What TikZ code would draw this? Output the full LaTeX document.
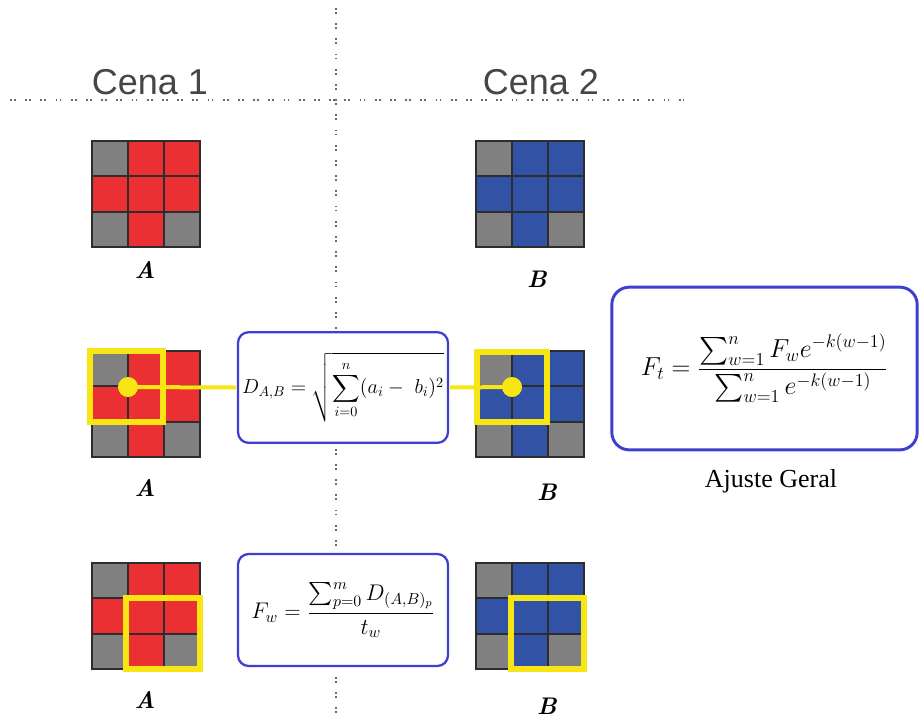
\RequirePackage{fix-cm}
\documentclass[tikz,border=0pt]{standalone}
\usepackage{fontspec}
\usepackage{amsmath}
\newfontfamily\cenafont{Liberation Sans}
\newfontfamily\capfont{Liberation Serif}
\definecolor{cellred}{RGB}{234,48,50}
\definecolor{cellblue}{RGB}{50,82,166}
\definecolor{cellgray}{RGB}{128,128,128}
\definecolor{gridline}{RGB}{45,45,45}
\definecolor{markyellow}{RGB}{247,230,20}
\definecolor{frameblue}{RGB}{62,62,208}
\definecolor{guide}{RGB}{105,105,105}
\definecolor{titlegray}{RGB}{70,70,70}

\tikzset{
  guideline/.style={guide, line width=1.3pt, dash pattern=on 1.4pt off 1.6pt on 1.4pt off 7pt},
  gridln/.style={gridline, line width=1.5pt},
  gridframe/.style={draw=gridline, line width=1.5pt, minimum width=81pt, minimum height=79.5pt, inner sep=0pt, outer sep=0pt, anchor=north west},
  markbox/.style={markyellow, line width=4.5pt},
  markline/.style={markyellow, line width=3pt},
  markdot/.style={circle, fill=markyellow, minimum size=15pt, inner sep=0pt},
  formbox/.style={draw=frameblue, fill=white, line width=1.7pt, rounded corners=8pt, inner sep=0pt},
  cena/.style={font=\cenafont\fontsize{27}{30}\selectfont, text=titlegray, anchor=base},
  glabel/.style={font=\fontsize{18}{20}\selectfont\bfseries\itshape},
}

% 3x3 cell grid: #1,#2 top-left corner (px), #3 node name, #4 fill colour
\newcommand\pixgrid[4]{%
  \foreach \c in {0,1,2}{\foreach \r in {0,1,2}{
    \fill[#4] ({#1+36*\c},{#2+35.33*\r}) rectangle ++(36,35.33);}}
  \fill[cellgray] (#1,#2) rectangle ++(36,35.33);
  \fill[cellgray] (#1,{#2+70.67}) rectangle ++(36,35.33);
  \fill[cellgray] ({#1+72},{#2+70.67}) rectangle ++(36,35.33);
  \draw[gridln] ({#1+36},#2) -- ++(0,106);
  \draw[gridln] ({#1+72},#2) -- ++(0,106);
  \draw[gridln] (#1,{#2+35.33}) -- ++(108,0);
  \draw[gridln] (#1,{#2+70.67}) -- ++(108,0);
  \node[gridframe] (#3) at (#1,#2) {};
}

\begin{document}
\begin{tikzpicture}[x=0.75pt, y=-0.75pt]
  \fill[white] (0,0) rectangle (920,719);
  \useasboundingbox (0,0) rectangle (920,719);

  % scene separators
  \draw[guideline] (10,100) -- (683,100);
  \draw[guideline] (336,8) -- (336,719);

  \node[cena] (cena1) at (150,94) {Cena 1};
  \node[cena] (cena2) at (541,94) {Cena 2};

  % top row
  \pixgrid{92}{141}{ga1}{cellred}
  \pixgrid{476}{141}{gb1}{cellblue}
  \node[glabel] (la1) at (145,270) {A};
  \node[glabel] (lb1) at (537,279) {B};

  % middle row
  \pixgrid{92}{351}{ga2}{cellred}
  \pixgrid{476}{351}{gb2}{cellblue}
  \draw[markbox] (90,351) rectangle (163,422);
  \draw[markbox] (477,352) rectangle (547,422);
  \node[glabel] (la2) at (145,488) {A};
  \node[glabel] (lb2) at (547,492) {B};

  \node[formbox, minimum width=157.5pt, minimum height=83pt] (dist) at (343,387.5)
    {\fontsize{15.2}{17}\selectfont$\displaystyle D_{A,B} = \sqrt{\sum_{i=0}^{n}(a_i -\ b_i)^2}$};

  \node[markdot] (da) at (128,387) {};
  \node[markdot] (db) at (512,387) {};
  \draw[markline, shorten >=0.8pt] (da.center) -- (dist.west);
  \draw[markline, shorten <=0.8pt] (dist.east) -- (db.center);

  % bottom row
  \pixgrid{92}{563}{ga3}{cellred}
  \pixgrid{476}{563}{gb3}{cellblue}
  \draw[markbox] (126,598) rectangle (200,669);
  \draw[markbox] (511,598) rectangle (584,669);
  \node[glabel] (la3) at (145,700) {A};
  \node[glabel] (lb3) at (547,706) {B};

  \node[formbox, minimum width=157.5pt, minimum height=84pt] (fw) at (343,610)
    {\fontsize{17}{19}\selectfont$\displaystyle F_w = \frac{\sum_{p=0}^{m} D_{(A,B)_p}}{t_w}$};

  % overall fit
  \node[formbox, line width=2.2pt, rounded corners=13pt, minimum width=229pt, minimum height=122pt] (ft) at (764.5,368.5)
    {\fontsize{19.5}{22}\selectfont$\displaystyle F_t = \frac{\sum_{w=1}^{n} F_w e^{-k(w-1)}}{\sum_{w=1}^{n} e^{-k(w-1)}}$};
  \node[font=\capfont\fontsize{19.5}{22}\selectfont] (fit) at (771,481) {Ajuste Geral};
\end{tikzpicture}
\end{document}
